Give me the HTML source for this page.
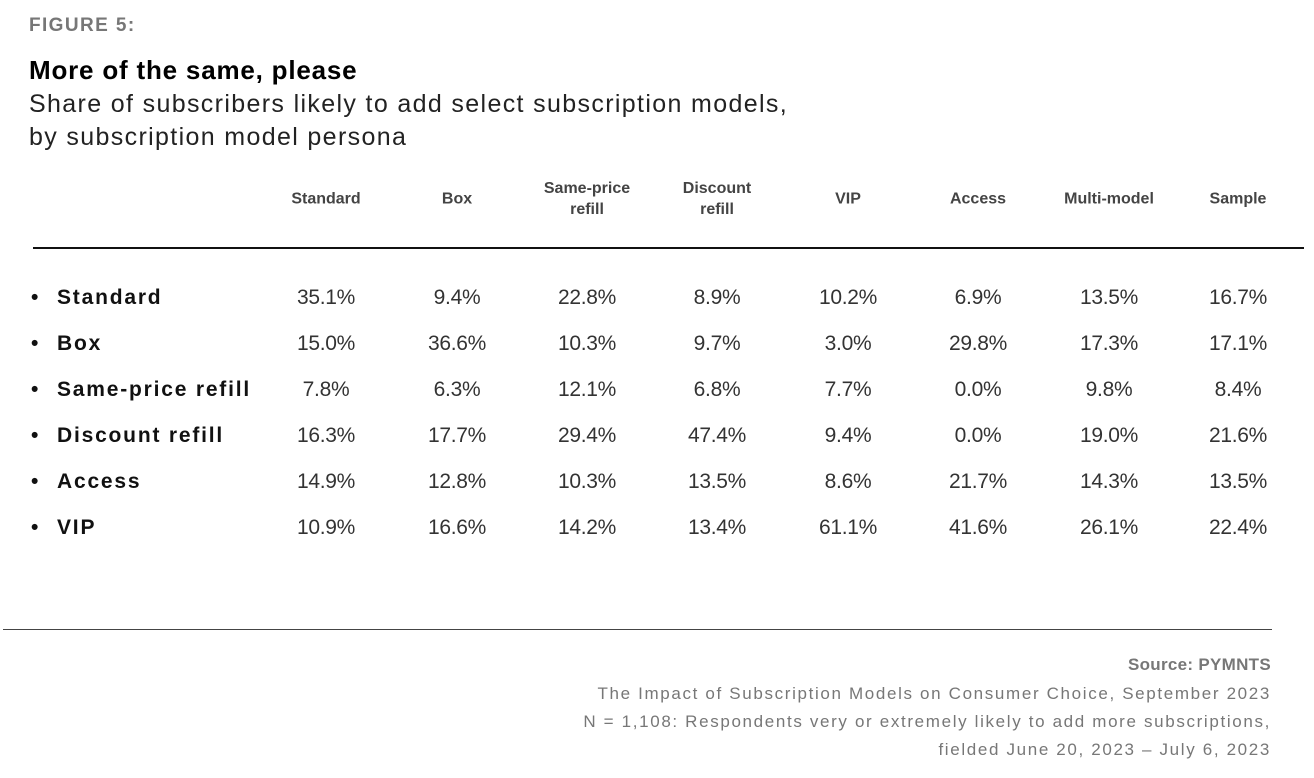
<!DOCTYPE html>
<html><head><meta charset="utf-8"><style>
body{margin:0;width:1314px;height:778px;background:#fff;position:relative;overflow:hidden;font-family:"Liberation Sans",sans-serif}
.a{position:absolute;white-space:nowrap}
.h{font-weight:bold;font-size:16px;color:#444;text-align:center;line-height:21px;transform:translate(-50%,-50%)}
.v{font-size:21px;color:#333;transform:translate(-50%,-50%);letter-spacing:-0.3px}
.r{font-weight:bold;font-size:21px;color:#111;transform:translateY(-50%);letter-spacing:1.8px}
.f{right:43px;font-size:17px;color:#777;transform:translateY(-50%);letter-spacing:1.65px}
</style></head><body>
<div class="a" style="left:29px;top:15px;font-weight:bold;font-size:19px;color:#777;letter-spacing:1.4px">FIGURE 5:</div>
<div class="a" style="left:29px;top:55px;font-weight:bold;font-size:26px;color:#000;letter-spacing:0.8px">More of the same, please</div>
<div class="a" style="left:29px;top:88px;font-size:25px;color:#222;line-height:33px;letter-spacing:1.35px">Share of subscribers likely to add select subscription models,<br>by subscription model persona</div>
<div class="a h" style="left:326px;top:199px">Standard</div>
<div class="a h" style="left:457px;top:199px">Box</div>
<div class="a h" style="left:587px;top:199px">Same-price<br>refill</div>
<div class="a h" style="left:717px;top:199px">Discount<br>refill</div>
<div class="a h" style="left:848px;top:199px">VIP</div>
<div class="a h" style="left:978px;top:199px">Access</div>
<div class="a h" style="left:1109px;top:199px">Multi-model</div>
<div class="a h" style="left:1238px;top:199px">Sample</div>
<div class="a" style="left:33px;top:247px;width:1271px;height:2px;background:#111"></div>
<div id="t"></div>
<div class="a" style="left:3px;top:629px;width:1269px;height:1px;background:#444"></div>
<div class="a f" style="top:665px;font-weight:bold;color:#777;letter-spacing:0.3px">Source: PYMNTS</div>
<div class="a f" style="top:694px">The Impact of Subscription Models on Consumer Choice, September 2023</div>
<div class="a f" style="top:722px">N = 1,108: Respondents very or extremely likely to add more subscriptions,</div>
<div class="a f" style="top:750px">fielded June 20, 2023 – July 6, 2023</div>
<script>
var rows=[["Standard",["35.1%","9.4%","22.8%","8.9%","10.2%","6.9%","13.5%","16.7%"]],
["Box",["15.0%","36.6%","10.3%","9.7%","3.0%","29.8%","17.3%","17.1%"]],
["Same-price refill",["7.8%","6.3%","12.1%","6.8%","7.7%","0.0%","9.8%","8.4%"]],
["Discount refill",["16.3%","17.7%","29.4%","47.4%","9.4%","0.0%","19.0%","21.6%"]],
["Access",["14.9%","12.8%","10.3%","13.5%","8.6%","21.7%","14.3%","13.5%"]],
["VIP",["10.9%","16.6%","14.2%","13.4%","61.1%","41.6%","26.1%","22.4%"]]];
var xs=[326,457,587,717,848,978,1109,1238],h="";
rows.forEach(function(r,i){var y=298+i*46;
h+='<div class="a r" style="left:31px;top:'+y+'px">•</div><div class="a r" style="left:57px;top:'+y+'px">'+r[0]+'</div>';
r[1].forEach(function(v,j){h+='<div class="a v" style="left:'+xs[j]+'px;top:'+y+'px">'+v+'</div>';});});
document.getElementById("t").innerHTML=h;
</script>
</body></html>
